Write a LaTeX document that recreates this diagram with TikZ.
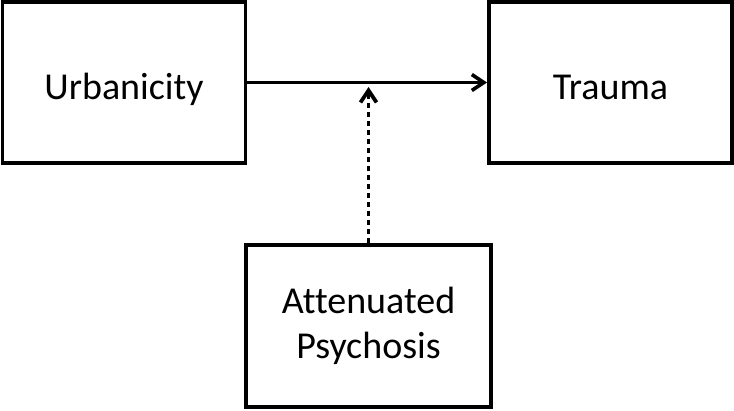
\documentclass[tikz,border=0pt]{standalone}
\usepackage{fontspec}
\setmainfont{Carlito}[Ligatures=NoCommon]
\usetikzlibrary{arrows.meta}
\begin{document}
\begin{tikzpicture}[x=1pt,y=1pt,
  box/.style={draw=black,line width=3.8pt,minimum width=243pt,minimum height=161pt,inner sep=0pt,font=\fontsize{38}{45}\selectfont,align=center},
  onebox/.style={box,text height=38pt,text depth=3pt},
  arr/.style={line width=3.6pt,-{Straight Barb[length=12pt,width=16pt]}},
  dotarr/.style={line width=3.8pt,dash pattern=on 5pt off 4pt,-{Straight Barb[length=12pt,width=16pt]}}]
\useasboundingbox (0,0) rectangle (734,410);
\node[onebox] (u) at (124,327.5) {Urbanicity};
\node[onebox] (t) at (610.5,327.5) {Trauma};
\node[box,minimum width=245pt,minimum height=162pt] (p) at (368.5,84) {Attenuated\\Psychosis};
\coordinate (m) at (368.5,326);
\draw[arr] (u.east) -- (t.west);
\draw[dotarr,shorten >=3pt] (p.north) -- (m);
\end{tikzpicture}
\end{document}
